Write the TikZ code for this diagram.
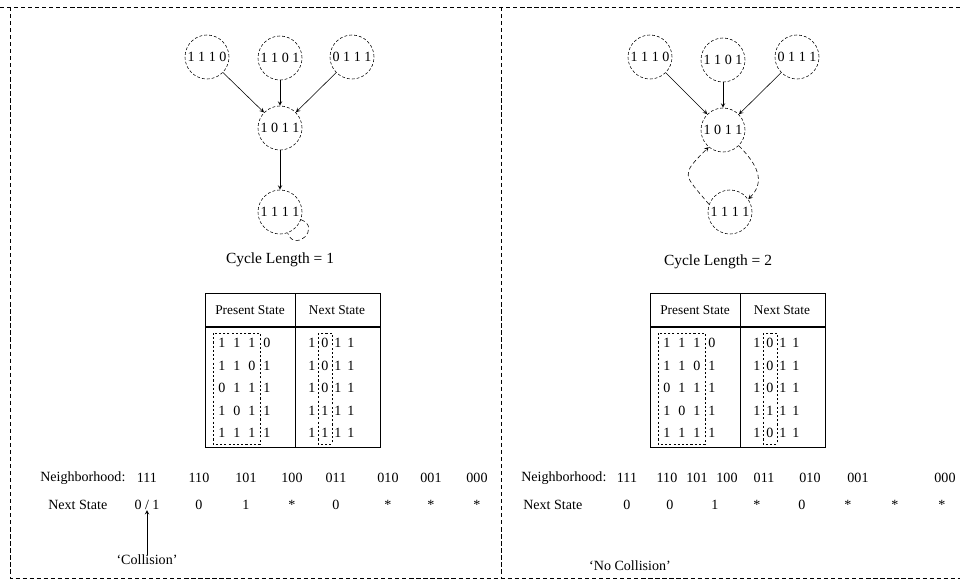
\documentclass[tikz,border=0pt]{standalone}
\usepackage{fontspec}
\setmainfont{Liberation Serif}
\tikzset{
  state/.style={circle, draw, dash pattern=on 2pt off 1.5pt, minimum size=1.1cm, inner sep=0pt, font=\fontsize{10}{11}\selectfont},
  frameline/.style={dash pattern=on 3pt off 2pt, line width=0.6pt},
  cycleline/.style={dash pattern=on 3pt off 2pt},
  window/.style={dash pattern=on 1.5pt off 1.5pt, line width=0.4pt},
  bit/.style={inner sep=0pt, font=\fontsize{10}{12}\selectfont},
  hdr/.style={inner sep=0pt, font=\fontsize{9.5}{11}\selectfont},
  caption/.style={inner sep=0pt, font=\fontsize{11}{13}\selectfont},
}
\begin{document}
\begin{tikzpicture}[x=0.025cm, y=-0.025cm, >=stealth]
\useasboundingbox (0,0) rectangle (960,584);

% Dashed frame and middle divider
\draw[frameline] (0,7) -- (960,7);
\draw[frameline] (10,7) -- (10,578) -- (960,578);
\draw[frameline] (501,7) -- (501,578);

% Left: transition graph with a fixed point
\node[state] (l1110) at (207,57) {1 1 1 0};
\node[state] (l1101) at (280,58) {1 1 0 1};
\node[state] (l0111) at (352,57) {0 1 1 1};
\node[state] (l1011) at (280,128) {1 0 1 1};
\node[state] (l1111) at (280,212) {1 1 1 1};
\foreach \n in {l1110,l1101,l0111} {
    \draw[->] (\n) -- (l1011);
}
\draw[->] (l1011) -- (l1111);
\draw[cycleline] (l1111) to[out=-20,in=-70,looseness=3] (l1111);
\node[caption] (lcap) at (280,260) {Cycle Length = 1};

% Right: transition graph with a two-state cycle
\node[state] (r1110) at (650,57) {1 1 1 0};
\node[state] (r1101) at (723,60) {1 1 0 1};
\node[state] (r0111) at (797,57) {0 1 1 1};
\node[state] (r1011) at (723,130) {1 0 1 1};
\node[state] (r1111) at (730,212) {1 1 1 1};
\foreach \n in {r1110,r1101,r0111} {
    \draw[->] (\n) -- (r1011);
}
\draw[cycleline,->] (r1111.160) to[out=130,in=-135,looseness=1.8] (r1011.-130);
\draw[cycleline,->] (r1011.-45) to[out=-45,in=45,looseness=1.2] (r1111.35);
\node[caption] (rcap) at (718,262) {Cycle Length = 2};

% Left: state table
\draw[semithick] (205,293) rectangle (380,447);
\draw[thick] (205,327) -- (380,327);
\draw[semithick] (295,293) -- (295,447);
\node[hdr] (lhp) at (250,310) {Present State};
\node[hdr] (lhn) at (337,310) {Next State};
\foreach \ps/\ns [count=\r] in {{1,1,1,0}/{1,0,1,1}, {1,1,0,1}/{1,0,1,1}, {0,1,1,1}/{1,0,1,1}, {1,0,1,1}/{1,1,1,1}, {1,1,1,1}/{1,1,1,1}} {
    \foreach \b [count=\k] in \ps
        \node[bit] (lp\r\k) at (207+15*\k, 320.5+22.5*\r) {\b};
    \foreach \b [count=\k] in \ns
        \node[bit] (ln\r\k) at (299+13*\k, 320.5+22.5*\r) {\b};
}
\draw[window] (213,333) rectangle (260,444);
\draw[window] (318,333) rectangle (332,444);

% Right: state table
\draw[semithick] (650,293) rectangle (825,447);
\draw[thick] (650,327) -- (825,327);
\draw[semithick] (740,293) -- (740,447);
\node[hdr] (rhp) at (695,310) {Present State};
\node[hdr] (rhn) at (782,310) {Next State};
\foreach \ps/\ns [count=\r] in {{1,1,1,0}/{1,0,1,1}, {1,1,0,1}/{1,0,1,1}, {0,1,1,1}/{1,0,1,1}, {1,0,1,1}/{1,1,1,1}, {1,1,1,1}/{1,0,1,1}} {
    \foreach \b [count=\k] in \ps
        \node[bit] (rp\r\k) at (652+15*\k, 320.5+22.5*\r) {\b};
    \foreach \b [count=\k] in \ns
        \node[bit] (rn\r\k) at (744+13*\k, 320.5+22.5*\r) {\b};
}
\draw[window] (658,333) rectangle (705,444);
\draw[window] (763,333) rectangle (777,444);

% Left: rule table
\node[bit,anchor=west] (lnbl) at (40,478) {Neighborhood:};
\node[bit,anchor=west] (lnsl) at (48,505) {Next State};
\foreach \x/\nb/\ns [count=\k] in {147/111/{0 / 1}, 199/110/0, 246/101/1, 292/100/*, 336/011/0, 388/010/*, 431/001/*, 477/000/*} {
    \node[bit] (lnb\k) at (\x,478) {\nb};
    \node[bit] (lns\k) at (\x,505) {\ns};
}
\node[bit] (lcol) at (147,560) {`Collision'};
\draw[->] (lcol) -- (lns1);

% Right: rule table
\node[bit,anchor=west] (rnbl) at (521,478) {Neighborhood:};
\node[bit,anchor=west] (rnsl) at (523,505) {Next State};
\foreach \xa/\xb/\nb/\ns [count=\k] in {627/627/111/0, 667/670/110/0, 697/715/101/1, 727/757/100/*, 764/802/011/0, 810/848/010/*, 858/895/001/*, 945/942/000/*} {
    \node[bit] (rnb\k) at (\xa,478) {\nb};
    \node[bit] (rns\k) at (\xb,505) {\ns};
}
\node[bit] (rcol) at (630,566) {`No Collision'};

\end{tikzpicture}
\end{document}
